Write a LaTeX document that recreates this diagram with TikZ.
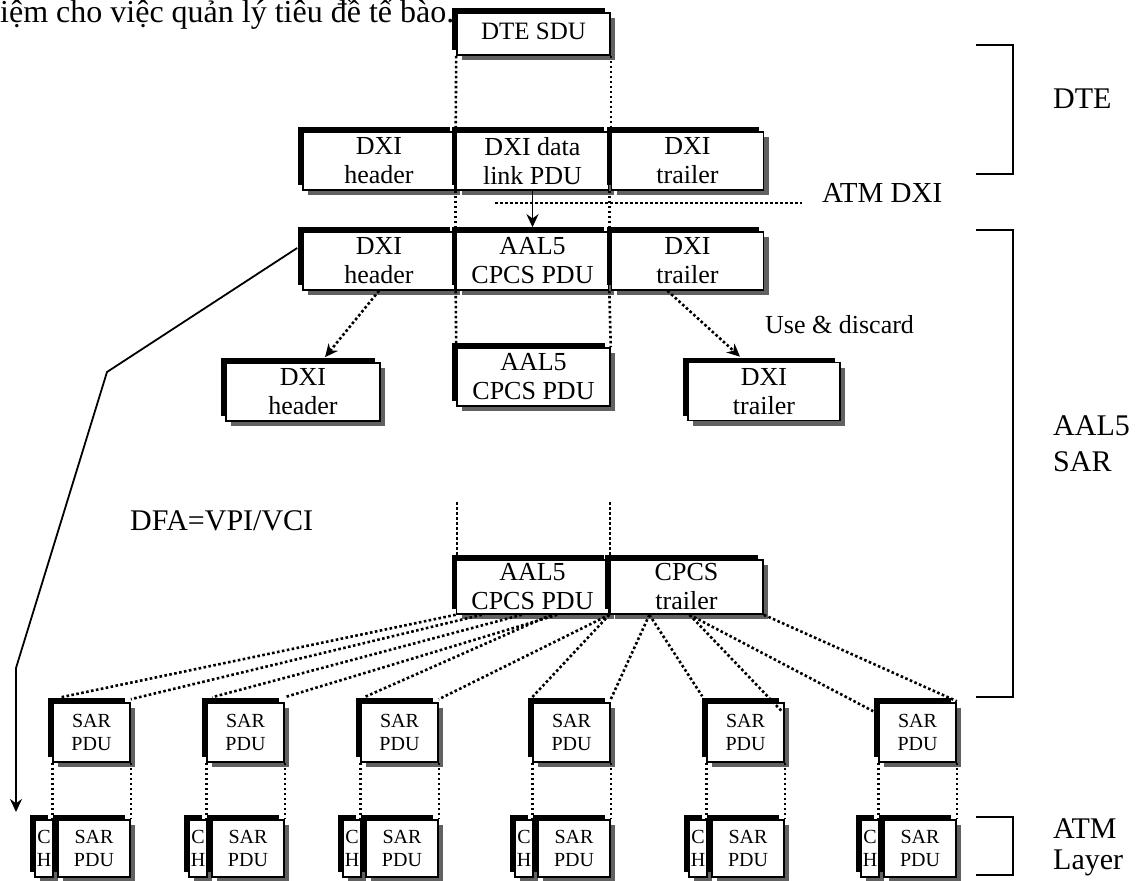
\documentclass[tikz,border=0pt]{standalone}
\usepackage{fontspec}
\setmainfont{Liberation Serif}
\usetikzlibrary{arrows.meta,calc,shadows}

\tikzset{
  pdubox/.style={draw,line width=1.6pt,fill=white,inner sep=0pt,align=center,
    general shadow={fill=black!62,draw=none,shadow xshift=5pt,shadow yshift=-5pt},
    general shadow={fill=black,draw=none,shadow xshift=-5pt,shadow yshift=5pt}},
  rowbox/.style={pdubox,minimum width=152pt,minimum height=58pt,font=\fontsize{26}{29}\selectfont},
  sarbox/.style={pdubox,minimum height=59pt,font=\fontsize{20}{23}\selectfont},
  sidetag/.style={anchor=base west,inner sep=0pt,align=left,font=\fontsize{30}{36}\selectfont},
  dotline/.style={line width=2.6pt,dash pattern=on 2.6pt off 2.4pt},
  thinline/.style={line width=1.8pt},
}

\begin{document}
\begin{tikzpicture}[x=1pt,y=-1pt,>={Stealth[length=13pt,width=12pt]}]
\useasboundingbox (0,0) rectangle (1144,881);

\node[sidetag,font=\fontsize{32}{36}\selectfont] (caption) at (0,22) {iệm cho việc quản lý tiêu đề tế bào.};

\node[rowbox,minimum width=153pt,minimum height=42pt,font=\fontsize{25}{28}\selectfont] (dtesdu) at (533.5,34) {\raisebox{5pt}{DTE SDU}};

\node[rowbox] (dxihdrA) at (379,161) {DXI\\header};
\node[rowbox] (dxidataA) at (532.5,161) {DXI data\\link PDU};
\node[rowbox] (dxitrlA) at (687.5,161) {DXI\\trailer};

\node[rowbox] (dxihdrB) at (379,261) {DXI\\header};
\node[rowbox] (aalB) at (532.5,261) {AAL5\\CPCS PDU};
\node[rowbox] (dxitrlB) at (687.5,261) {DXI\\trailer};

\node[rowbox,minimum width=154pt] (dxihdrC) at (303,392) {DXI\\header};
\node[rowbox,minimum width=153pt] (aalC) at (533.5,377) {AAL5\\CPCS PDU};
\node[rowbox] (dxitrlC) at (764,391.5) {DXI\\trailer};

\node[rowbox,minimum height=54pt] (aalD) at (532.5,587) {AAL5\\CPCS PDU};
\node[rowbox,minimum height=54pt,minimum width=153pt] (cpcstrl) at (686.5,587) {CPCS\\trailer};

\foreach \i/\x in {1/53,2/207,3/361,4/533,5/707,6/879}{
  \node[sarbox,minimum width=77pt] (sar\i) at (\x+38.5,732.5) {SAR\\PDU};
  \node[sarbox,minimum width=18pt,minimum height=57pt] (ch\i) at (\x-9,848.5) {C\\H};
  \node[sarbox,minimum width=72pt,minimum height=57pt] (cell\i) at (\x+41,848.5) {SAR\\PDU};
  \draw[dotline] (sar\i.south west) -- (sar\i.south west |- cell\i.north);
  \draw[dotline] (sar\i.south east) -- (sar\i.south east |- cell\i.north);
}

\draw[dotline] (dtesdu.south west) -- (dxidataA.north west);
\draw[dotline] (dtesdu.south east) -- (dtesdu.south east |- dxidataA.north);
\draw[dotline] (dxidataA.south west) -- (aalB.north west);
\draw[dotline] (dxidataA.south east) -- (aalB.north east);
\draw[dotline] (aalB.south west) -- (aalC.north west);
\draw[dotline] (aalB.south east) -- (aalC.north east);
\coordinate (gapL) at (457,502);
\coordinate (gapR) at (610,502);
\draw[dotline] (gapL) -- (gapL |- aalD.north);
\draw[dotline] (gapR) -- (gapR |- aalD.north);

\coordinate (dxiL) at (495,203);
\coordinate (dxiR) at (802,203);
\draw[dotline] (dxiL) -- (dxiR);
\draw[thinline,->] (dxidataA.south) -- ($(aalB.north)+(0,-4)$);

\draw[dotline,->] (dxihdrB.south) -- ($(dxihdrC.north)+(22,-5)$);
\draw[dotline,->] ($(dxitrlB.south)+(-20,0)$) -- ($(dxitrlC.north)+(-24,-5)$);

\coordinate (bendA) at (107,372);
\coordinate (bendB) at (16,668);
\coordinate (dfaEnd) at (16,812);
\draw[thinline,->] ($(dxihdrB.west)+(-5,-13)$) -- (bendA) -- (bendB) -- (dfaEnd);

\draw[dotline] (aalD.south west) -- ($(sar1.north west)+(9,-5)$);
\draw[dotline] ($(aalD.south west)!.17!(aalD.south east)$) -- ($(sar1.north east)+(0,-3)$);
\draw[dotline] ($(aalD.south west)!.43!(aalD.south east)$) -- ($(sar2.north west)+(6,-5)$);
\draw[dotline] ($(aalD.south west)!.66!(aalD.south east)$) -- ($(sar2.north east)+(0,-5)$);
\draw[dotline] ($(aalD.south west)!.62!(aalD.south east)$) -- ($(sar3.north west)+(4,-5)$);
\draw[dotline] (aalD.south east) -- ($(sar3.north east)+(0,-3)$);
\draw[dotline] (aalD.south east) -- ($(sar4.north west)+(0,-5)$);
\draw[dotline] ($(cpcstrl.south west)!.26!(cpcstrl.south east)$) -- ($(sar4.north east)+(0,-3)$);
\draw[dotline] ($(cpcstrl.south west)!.26!(cpcstrl.south east)$) -- ($(sar5.north west)+(-4,-6)$);
\draw[dotline] ($(cpcstrl.south west)!.52!(cpcstrl.south east)$) -- ($(sar5.north east)+(-3,9)$);
\draw[dotline] ($(cpcstrl.south west)!.52!(cpcstrl.south east)$) -- ($(sar6.north west)+(-5,9)$);
\draw[dotline] (cpcstrl.south east) -- ($(sar6.north east)+(0,-1)$);

\draw[thinline] (976,45) -- (1013,45) -- (1013,174) -- (976,174);
\draw[thinline] (976,230) -- (1013,230) -- (1013,697) -- (976,697);
\draw[thinline] (976,817) -- (1013,817) -- (1013,875) -- (976,875);

\node[sidetag,font=\fontsize{29}{34}\selectfont] (atmdxi) at (822,202) {ATM DXI};
\node[sidetag] (dtetag) at (1053,108) {DTE};
\node[sidetag] (sartag) at (1053,471) {AAL5\\SAR};
\node[sidetag,font=\fontsize{30}{31}\selectfont] (atmtag) at (1053,869) {ATM\\Layer};
\node[sidetag,font=\fontsize{26}{30}\selectfont] (usetag) at (765,333) {Use \& discard};
\node[sidetag] (dfatag) at (130,530) {DFA=VPI/VCI};
\end{tikzpicture}
\end{document}
